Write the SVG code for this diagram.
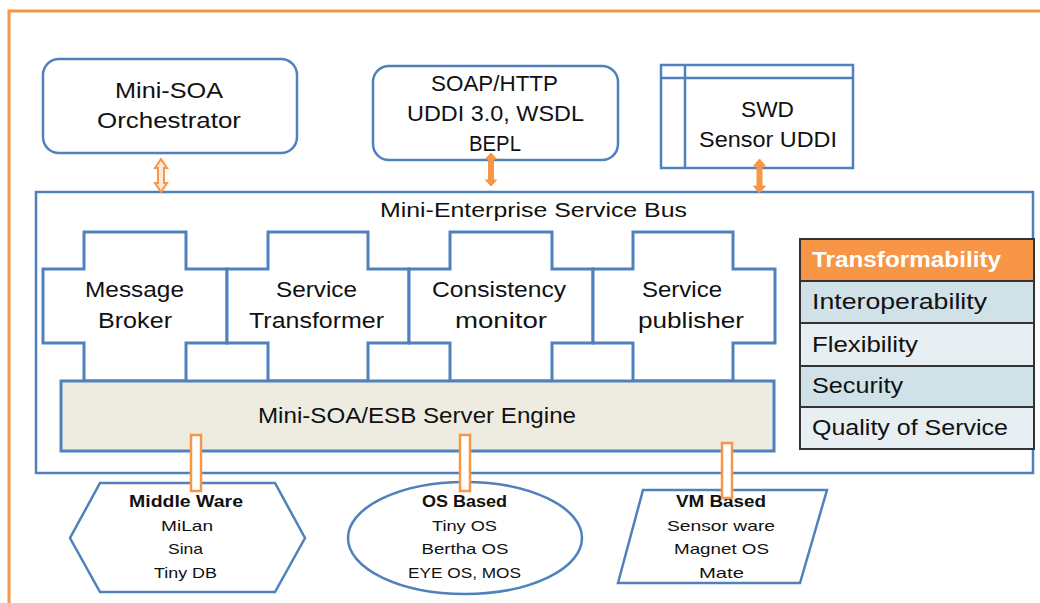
<svg xmlns="http://www.w3.org/2000/svg" width="1040" height="603" viewBox="0 0 1040 603">
  <style>
    .box { fill: #ffffff; stroke: #4f81bd; stroke-width: 2.5; }
    .piece { fill: #ffffff; stroke: #4f81bd; stroke-width: 3; stroke-linejoin: miter; }
    .engine { fill: #eeece1; stroke: #4f81bd; stroke-width: 3; }
    .link { fill: #ffffff; stroke: #f79646; stroke-width: 2.5; }
    .arrow { fill: #f79646; stroke: #f79646; stroke-width: 1; }
    .harrow { fill: #fde9d9; stroke: #f79646; stroke-width: 2; stroke-linejoin: miter; }
    text { font-family: "Liberation Sans", Arial, sans-serif; fill: #111111; }
    .t22 { font-size: 22px; text-anchor: middle; }
    .t20 { font-size: 20px; text-anchor: middle; }
    .tb { font-size: 16px; font-weight: bold; text-anchor: middle; }
    .ts { font-size: 15px; text-anchor: middle; }
    .row { font-size: 22px; }
    .cell { stroke: #333333; stroke-width: 2; }
  </style>

  <!-- outer frame -->
  <path d="M9,603 V11 H1040" fill="none" stroke="#f79646" stroke-width="3"/>

  <!-- top service boxes -->
  <g id="orchestrator">
    <rect class="box" x="43" y="59" width="254" height="94" rx="16"/>
    <text class="t22" x="169" y="98" textLength="108" lengthAdjust="spacingAndGlyphs">Mini-SOA</text>
    <text class="t22" x="169" y="128" textLength="144" lengthAdjust="spacingAndGlyphs">Orchestrator</text>
  </g>

  <g id="protocols">
    <rect class="box" x="373" y="66" width="245" height="94" rx="16"/>
    <text class="t22" x="494.5" y="91" textLength="127" lengthAdjust="spacingAndGlyphs">SOAP/HTTP</text>
    <text class="t22" x="495.5" y="121" textLength="177" lengthAdjust="spacingAndGlyphs">UDDI 3.0, WSDL</text>
    <text class="t22" x="495" y="151" textLength="52" lengthAdjust="spacingAndGlyphs">BEPL</text>
  </g>

  <g id="swd">
    <rect class="box" x="661" y="65" width="192" height="103"/>
    <line class="box" x1="661" y1="78" x2="853" y2="78"/>
    <line class="box" x1="685" y1="65" x2="685" y2="168"/>
    <text class="t22" x="767.5" y="117" textLength="53" lengthAdjust="spacingAndGlyphs">SWD</text>
    <text class="t22" x="768" y="147" textLength="138" lengthAdjust="spacingAndGlyphs">Sensor UDDI</text>
  </g>

  <!-- service bus container -->
  <g id="esb">
    <rect class="box" x="36" y="192" width="997" height="281"/>
    <text class="t20" x="533.5" y="217" textLength="307" lengthAdjust="spacingAndGlyphs">Mini-Enterprise Service Bus</text>
  </g>

  <!-- puzzle-piece components -->
  <g id="message-broker">
    <path class="piece" d="M84,232 H186 V269 H227 V343 H186 V381 H84 V343 H43 V269 H84 Z"/>
    <text class="t22" x="134.5" y="297" textLength="99" lengthAdjust="spacingAndGlyphs">Message</text>
    <text class="t22" x="135" y="328" textLength="74" lengthAdjust="spacingAndGlyphs">Broker</text>
  </g>
  <g id="service-transformer">
    <path class="piece" d="M268,232 H368 V269 H409 V343 H368 V381 H268 V343 H227 V269 H268 Z"/>
    <text class="t22" x="316.5" y="297" textLength="81" lengthAdjust="spacingAndGlyphs">Service</text>
    <text class="t22" x="316.5" y="328" textLength="135" lengthAdjust="spacingAndGlyphs">Transformer</text>
  </g>
  <g id="consistency-monitor">
    <path class="piece" d="M450,232 H552 V269 H593 V343 H552 V381 H450 V343 H409 V269 H450 Z"/>
    <text class="t22" x="499" y="297" textLength="134" lengthAdjust="spacingAndGlyphs">Consistency</text>
    <text class="t22" x="501" y="328" textLength="92" lengthAdjust="spacingAndGlyphs">monitor</text>
  </g>
  <g id="service-publisher">
    <path class="piece" d="M633,232 H733 V269 H775 V343 H733 V381 H633 V343 H593 V269 H633 Z"/>
    <text class="t22" x="682" y="297" textLength="80" lengthAdjust="spacingAndGlyphs">Service</text>
    <text class="t22" x="691" y="328" textLength="106" lengthAdjust="spacingAndGlyphs">publisher</text>
  </g>

  <g id="server-engine">
    <rect class="engine" x="61" y="381" width="713" height="70"/>
    <text class="t22" x="417" y="423" textLength="318" lengthAdjust="spacingAndGlyphs">Mini-SOA/ESB Server Engine</text>
  </g>

  <!-- quality attributes table -->
  <g id="attributes">
    <rect class="cell" x="800" y="239" width="234" height="42" fill="#f79646"/>
    <rect class="cell" x="800" y="281" width="234" height="42" fill="#d0e1e8"/>
    <rect class="cell" x="800" y="323" width="234" height="43" fill="#e8eff3"/>
    <rect class="cell" x="800" y="366" width="234" height="41" fill="#d0e1e8"/>
    <rect class="cell" x="800" y="407" width="234" height="42" fill="#e8eff3"/>
    <text class="row" x="812" y="267" font-weight="bold" style="fill:#ffffff" textLength="189" lengthAdjust="spacingAndGlyphs">Transformability</text>
    <text class="row" x="812" y="309" textLength="175" lengthAdjust="spacingAndGlyphs">Interoperability</text>
    <text class="row" x="812" y="352" textLength="106" lengthAdjust="spacingAndGlyphs">Flexibility</text>
    <text class="row" x="812" y="393" textLength="91" lengthAdjust="spacingAndGlyphs">Security</text>
    <text class="row" x="812" y="435" textLength="196" lengthAdjust="spacingAndGlyphs">Quality of Service</text>
  </g>

  <!-- sensor platform families -->
  <g id="middleware">
    <polygon class="box" points="100,483 275,483 305,538 275,592 100,592 70,538"/>
    <text class="tb" x="186" y="507" textLength="114" lengthAdjust="spacingAndGlyphs">Middle Ware</text>
    <text class="ts" x="187" y="531" textLength="52" lengthAdjust="spacingAndGlyphs">MiLan</text>
    <text class="ts" x="185.5" y="554" textLength="35" lengthAdjust="spacingAndGlyphs">Sina</text>
    <text class="ts" x="185.5" y="578" textLength="63" lengthAdjust="spacingAndGlyphs">Tiny DB</text>
  </g>

  <g id="os-based">
    <ellipse class="box" cx="465" cy="538" rx="117" ry="56"/>
    <text class="tb" x="464.5" y="507" textLength="85" lengthAdjust="spacingAndGlyphs">OS Based</text>
    <text class="ts" x="464.5" y="531" textLength="65" lengthAdjust="spacingAndGlyphs">Tiny OS</text>
    <text class="ts" x="465" y="554" textLength="87" lengthAdjust="spacingAndGlyphs">Bertha OS</text>
    <text class="ts" x="464.5" y="578" textLength="113" lengthAdjust="spacingAndGlyphs">EYE OS, MOS</text>
  </g>

  <g id="vm-based">
    <polygon class="box" points="643,490 827,490 800,583 618,583"/>
    <text class="tb" x="721" y="507" textLength="90" lengthAdjust="spacingAndGlyphs">VM Based</text>
    <text class="ts" x="721" y="531" textLength="108" lengthAdjust="spacingAndGlyphs">Sensor ware</text>
    <text class="ts" x="721.5" y="554" textLength="95" lengthAdjust="spacingAndGlyphs">Magnet OS</text>
    <text class="ts" x="721.5" y="578" textLength="45" lengthAdjust="spacingAndGlyphs">Mate</text>
  </g>

  <!-- connectors -->
  <g id="connectors">
    <!-- hollow double arrow: orchestrator to bus -->
    <polygon class="harrow" points="161,159 167,168 164,168 164,183 167,183 161,192 155,183 158,183 158,168 155,168"/>
    <!-- solid double arrows -->
    <polygon class="arrow" points="491,153 496.5,159 493.5,159 493.5,180 496.5,180 491,186 485.5,180 488.5,180 488.5,159 485.5,159"/>
    <polygon class="arrow" points="759.5,159 765.5,166 762,166 762,186 765.5,186 759.5,193 753.5,186 757,186 757,166 753.5,166"/>
    <!-- platform links into the engine -->
    <rect class="link" x="191" y="435" width="10" height="56"/>
    <rect class="link" x="460" y="435" width="10" height="56"/>
    <rect class="link" x="722" y="443" width="10" height="55"/>
  </g>
</svg>
